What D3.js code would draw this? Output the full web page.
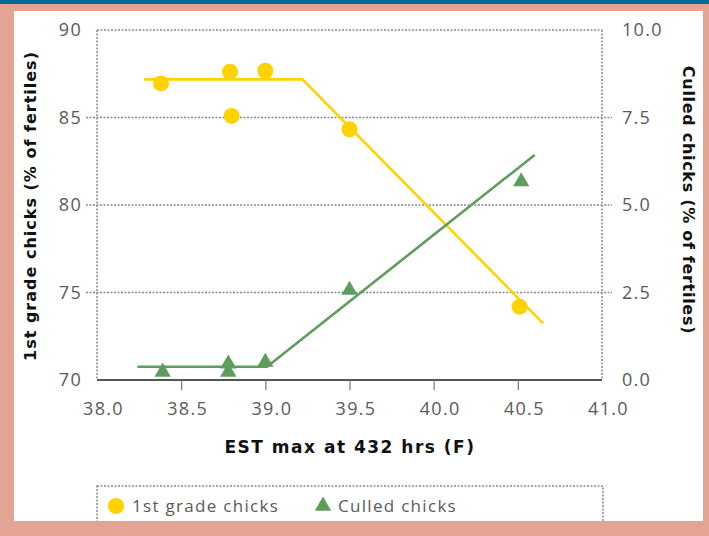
<!DOCTYPE html>
<html><head><meta charset="utf-8">
<script src="https://cdn.jsdelivr.net/npm/d3@7"></script>
<style>body{margin:0;padding:0;overflow:hidden;} svg{display:block;}</style>
</head><body>
<script>
// Data
const xTicks = [38.0, 38.5, 39.0, 39.5, 40.0, 40.5, 41.0];
const yLeftTicks = [70, 75, 80, 85, 90];
const yRightTicks = [0.0, 2.5, 5.0, 7.5, 10.0];
const gradeX = [38.38, 38.79, 38.80, 39.0, 39.5, 40.51];
const gradeY = [86.95, 87.62, 85.09, 87.67, 84.33, 74.19];
const culledX = [38.39, 38.78, 38.78, 39.0, 39.5, 40.52];
const culledY = [0.23, 0.46, 0.23, 0.51, 2.57, 5.67];
const gradeFitX = [38.28, 39.22, 40.65];
const gradeFitY = [87.18, 87.18, 73.24];
const culledFitX = [38.24, 39.01, 40.6];
const culledFitY = [0.38, 0.38, 6.43];
const legendLabels = ["1st grade chicks", "Culled chicks"];

const W = 709, H = 536;
const YELLOW = "#FFD200", GREEN = "#5E9D5E", GRID = "#8a8a8a", TXT = "#5a5a5a";
const svg = d3.select("body").append("svg").attr("width", W).attr("height", H);

svg.append("rect").attr("width", W).attr("height", H).attr("fill", "#E4A494");
svg.append("rect").attr("width", W).attr("height", 4).attr("fill", "#006B9B");
svg.append("rect").attr("x", 14).attr("y", 11).attr("width", 689).attr("height", 510).attr("fill", "#fff");
svg.append("defs").append("clipPath").attr("id", "panel")
  .append("rect").attr("x", 14).attr("y", 11).attr("width", 689).attr("height", 510);

const g = svg.append("g").attr("clip-path", "url(#panel)");

const x = d3.scaleLinear().domain([38, 41]).range([97, 602]);
const yL = d3.scaleLinear().domain([70, 90]).range([380, 30]);
const yR = d3.scaleLinear().domain([0, 10]).range([380, 30]);

const dotted = sel => sel.attr("stroke", GRID).attr("stroke-width", 1.5).attr("stroke-dasharray", "2,1.5").attr("fill", "none");
const tickFont = sel => sel.attr("fill", TXT).attr("font-family", "Open Sans, sans-serif").attr("font-size", 18).attr("letter-spacing", 1.3);

// gridlines 75,80,85
g.selectAll(".grid").data(yLeftTicks.filter(v => v > 70 && v < 90)).enter().append("line")
  .attr("x1", 86).attr("x2", 612).attr("y1", d => yL(d)).attr("y2", d => yL(d)).call(dotted);
// frame top, left, right
g.append("line").attr("x1", x(38)).attr("x2", x(41)).attr("y1", yL(90)).attr("y2", yL(90)).call(dotted);
g.append("line").attr("x1", x(38)).attr("x2", x(38)).attr("y1", yL(90)).attr("y2", yL(70)).call(dotted);
g.append("line").attr("x1", x(41)).attr("x2", x(41)).attr("y1", yL(90)).attr("y2", yL(70)).call(dotted);

// x axis
const xAxis = d3.axisBottom(x).tickValues(xTicks).tickSize(10).tickFormat(d3.format(".1f"));
const xa = g.append("g").attr("transform", `translate(0,${yL(70)})`).call(xAxis);
xa.select(".domain").attr("stroke", "#555").attr("stroke-width", 2.2).attr("d", `M${x(38)},0H${x(41)}`);
xa.selectAll(".tick line").attr("stroke", "#777").attr("stroke-width", 1.2)
  .attr("display", d => (d === 38 || d === 41) ? "none" : null);
xa.selectAll(".tick text").call(tickFont).attr("dy", "1.2em").attr("dx", 6);

// left axis labels
const yla = g.append("g").attr("transform", `translate(${x(38)},0)`)
  .call(d3.axisLeft(yL).tickValues(yLeftTicks).tickSize(0).tickPadding(15).tickFormat(d3.format("d")));
yla.select(".domain").remove();
yla.selectAll(".tick text").call(tickFont);

// right axis labels
const yra = g.append("g").attr("transform", `translate(${x(41)},0)`)
  .call(d3.axisRight(yR).tickValues(yRightTicks).tickSize(0).tickPadding(20).tickFormat(d3.format(".1f")));
yra.select(".domain").remove();
yra.selectAll(".tick text").call(tickFont);

// titles
g.append("text").attr("x", 350).attr("y", 453).attr("text-anchor", "middle")
  .attr("font-family", "DejaVu Sans, sans-serif").attr("font-weight", "bold").attr("font-size", 17)
  .attr("letter-spacing", 1.5).attr("fill", "#111").text("EST max at 432 hrs (F)");
g.append("text").attr("transform", "translate(36,206) rotate(-90)").attr("text-anchor", "middle")
  .attr("font-family", "DejaVu Sans, sans-serif").attr("font-weight", "bold").attr("font-size", 16)
  .attr("letter-spacing", 1).attr("fill", "#111").text("1st grade chicks (% of fertiles)");
g.append("text").attr("transform", "translate(683,200) rotate(90)").attr("text-anchor", "middle")
  .attr("font-family", "DejaVu Sans, sans-serif").attr("font-weight", "bold").attr("font-size", 16)
  .attr("letter-spacing", 0.7).attr("fill", "#111").text("Culled chicks (% of fertiles)");

// fit lines
const lineL = d3.line().x(d => x(d[0])).y(d => yL(d[1]));
const lineR = d3.line().x(d => x(d[0])).y(d => yR(d[1]));
g.append("path").attr("d", lineL(gradeFitX.map((v, i) => [v, gradeFitY[i]])))
  .attr("fill", "none").attr("stroke", YELLOW).attr("stroke-width", 2.6);
g.append("path").attr("d", lineR(culledFitX.map((v, i) => [v, culledFitY[i]])))
  .attr("fill", "none").attr("stroke", GREEN).attr("stroke-width", 2.6);

// points
g.selectAll(".grade").data(gradeX.map((v, i) => [v, gradeY[i]])).enter().append("circle")
  .attr("cx", d => x(d[0])).attr("cy", d => yL(d[1])).attr("r", 8).attr("fill", YELLOW);
const tri = d3.symbol().type(d3.symbolTriangle).size(115);
g.selectAll(".cull").data(culledX.map((v, i) => [v, culledY[i]])).enter().append("path")
  .attr("d", tri).attr("transform", d => `translate(${x(d[0])},${yR(d[1])})`).attr("fill", GREEN);

// legend
g.append("rect").attr("x", 97).attr("y", 486).attr("width", 506).attr("height", 60).call(dotted);
g.append("circle").attr("cx", 116).attr("cy", 506).attr("r", 8).attr("fill", YELLOW);
g.append("text").attr("x", 132).attr("y", 512).attr("font-family", "Open Sans, sans-serif").attr("font-size", 17)
  .attr("letter-spacing", 1.3).attr("fill", TXT).text(legendLabels[0]);
g.append("path").attr("d", tri).attr("transform", "translate(323,506)").attr("fill", GREEN);
g.append("text").attr("x", 338).attr("y", 512).attr("font-family", "Open Sans, sans-serif").attr("font-size", 17)
  .attr("letter-spacing", 1.3).attr("fill", TXT).text(legendLabels[1]);
</script>
</body></html>
